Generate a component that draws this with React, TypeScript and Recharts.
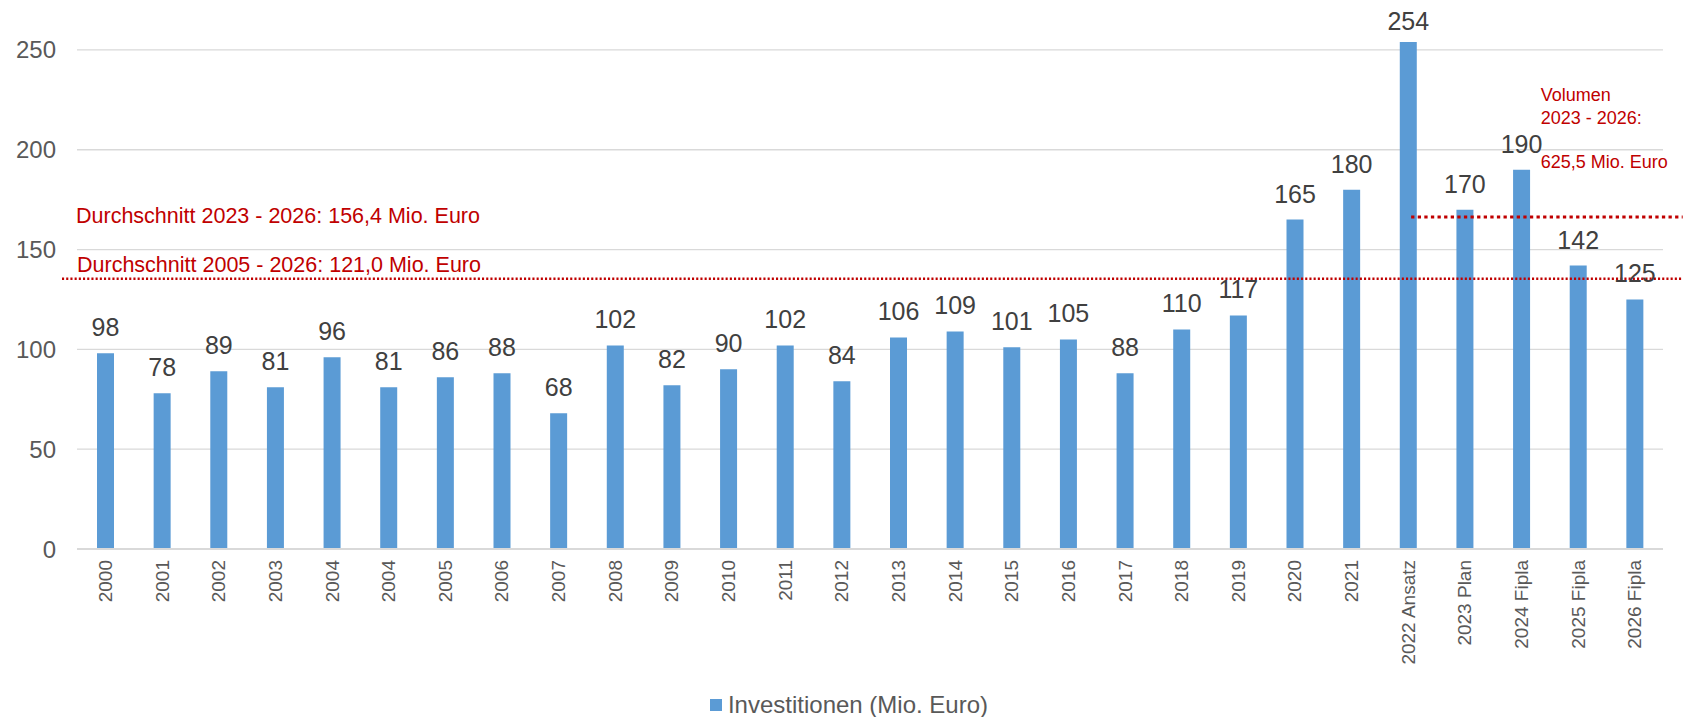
import {
  BarChart,
  Bar,
  XAxis,
  YAxis,
  CartesianGrid,
  Legend,
  LabelList,
  ReferenceLine,
} from "recharts";

const years = [
  "2000", "2001", "2002", "2003", "2004", "2004", "2005", "2006", "2007",
  "2008", "2009", "2010", "2011", "2012", "2013", "2014", "2015", "2016",
  "2017", "2018", "2019", "2020", "2021", "2022 Ansatz", "2023 Plan",
  "2024 Fipla", "2025 Fipla", "2026 Fipla",
];
const investments = [
  98, 78, 89, 81, 96, 81, 86, 88, 68, 102, 82, 90, 102, 84, 106, 109, 101,
  105, 88, 110, 117, 165, 180, 254, 170, 190, 142, 125,
];
const yTicks = [0, 50, 100, 150, 200, 250];

// Lage der roten Linien wie im Original gezeichnet
const avgLineAll = 135.4;
const avgLinePlan = 166.3;
const planFrom = "2022 Ansatz";
const planTo = "2026 Fipla";
const avgTextAll = "Durchschnitt 2005 - 2026: 121,0 Mio. Euro";
const avgTextPlan = "Durchschnitt 2023 - 2026: 156,4 Mio. Euro";
const volumeText = ["Volumen", "2023 - 2026:", "", "625,5 Mio. Euro"];

const data = years.map((name, i) => ({ name, value: investments[i] }));

const FONT = "'Liberation Sans', Arial, Helvetica, sans-serif";
const RED = "#C00000";

const XTick = ({ x, y, payload }: any) => (
  <text
    transform={`translate(${x},${y}) rotate(-90)`}
    textAnchor="end"
    dy="0.35em"
    fill="#595959"
    fontSize={19}
    fontFamily={FONT}
  >
    {payload.value}
  </text>
);

const ValueLabel = ({ x, y, width, value }: any) => (
  <text
    x={x + width / 2}
    y={Math.max(y - 17, 30)}
    textAnchor="middle"
    fill="#404040"
    fontSize={25}
    fontFamily={FONT}
  >
    {value}
  </text>
);

const AllLine = ({ x1, x2, y1 }: any) => (
  <g>
    <line x1={x1 - 15} x2={x2 + 20} y1={y1} y2={y1} stroke={RED} strokeWidth={2.6} strokeDasharray="2.1 2.1" />
    <text x={x1 - 1} y={y1 - 56} fill={RED} fontSize={21.5} fontFamily={FONT}>
      {avgTextPlan}
    </text>
    <text x={x1} y={y1 - 7} fill={RED} fontSize={21.5} fontFamily={FONT}>
      {avgTextAll}
    </text>
  </g>
);

const PlanLine = ({ x1, x2, y1 }: any) => (
  <g>
    <line x1={x1 + 3} x2={x2 + 48} y1={y1} y2={y1} stroke={RED} strokeWidth={3} strokeDasharray="3.3 3.3" />
    <text fill={RED} fontSize={18} fontFamily={FONT}>
      {volumeText.map((t, i) => (
        <tspan key={i} x={x2 - 94} y={y1 - 115.6 + i * 22.2}>
          {t}
        </tspan>
      ))}
    </text>
  </g>
);

const LegendBox = () => (
  <div
    style={{
      height: 38,
      boxSizing: "border-box",
      paddingTop: 13,
      paddingLeft: 35,
      display: "flex",
      justifyContent: "center",
      alignItems: "center",
      fontFamily: FONT,
      fontSize: 24,
      color: "#595959",
    }}
  >
    <span style={{ display: "inline-block", width: 12, height: 12, background: "#5B9BD5", marginRight: 6 }} />
    Investitionen (Mio. Euro)
  </div>
);

const App = () => {
  return (
    <div style={{ position: "absolute", left: 0, top: 0, background: "#fff" }}>
      <BarChart
        width={1683}
        height={717}
        data={data}
        margin={{ top: 10, right: 20, left: 0, bottom: 0 }}
      >
        <CartesianGrid vertical={false} stroke="#D9D9D9" strokeWidth={1.3} horizontalValues={yTicks} />
        <XAxis
          dataKey="name"
          interval={0}
          height={130}
          tickLine={false}
          tickSize={0}
          tickMargin={11}
          axisLine={{ stroke: "#D9D9D9", strokeWidth: 2 }}
          tick={<XTick />}
        />
        <YAxis
          width={77}
          domain={[0, 270]}
          ticks={yTicks}
          axisLine={false}
          tickLine={false}
          tickSize={0}
          tickMargin={21}
          tick={{ fill: "#595959", fontSize: 24, fontFamily: FONT }}
        />
        <Legend verticalAlign="bottom" content={<LegendBox />} />
        <Bar dataKey="value" fill="#5B9BD5" barSize={17} isAnimationActive={false}>
          <LabelList dataKey="value" content={<ValueLabel />} />
        </Bar>
        <ReferenceLine y={avgLineAll} ifOverflow="visible" shape={<AllLine />} />
        <ReferenceLine
          segment={[
            { x: years.indexOf(planFrom), y: avgLinePlan },
            { x: years.indexOf(planTo), y: avgLinePlan },
          ]}
          ifOverflow="visible"
          shape={<PlanLine />}
        />
      </BarChart>
    </div>
  );
};

export default App;
